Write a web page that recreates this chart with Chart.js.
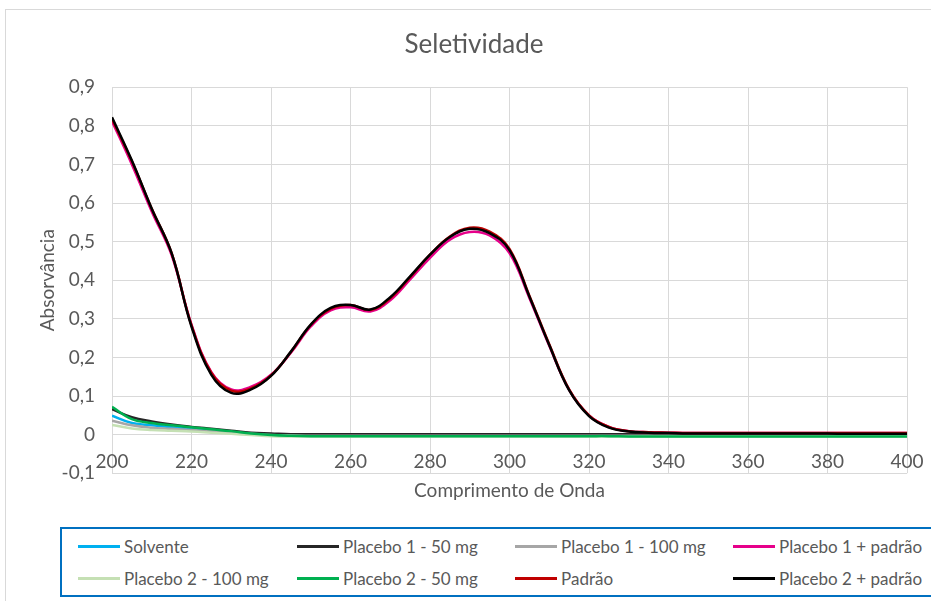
<!DOCTYPE html>
<html lang="pt">
<head>
<meta charset="utf-8">
<title>Seletividade</title>
<script src="https://cdn.jsdelivr.net/npm/chart.js@4.4.1/dist/chart.umd.min.js"></script>
<style>
  html, body { margin: 0; padding: 0; background: #fff; width: 931px; height: 601px; overflow: hidden; }
  #frame { position: absolute; left: 5px; top: 9px; width: 1000px; height: 700px; border: 1px solid #d9d9d9; }
  #chartBox { position: absolute; left: 0; top: 0; width: 948px; height: 520px; }
  #legend { position: absolute; left: 60px; top: 527px; width: 900px; height: 66px; border: 2px solid #0070c0; }
  .item { position: absolute; display: flex; align-items: center; height: 20px; font-family: Lato, "Open Sans", sans-serif; font-size: 17px; color: #595959; white-space: nowrap; }
  .swatch { width: 42px; height: 3px; margin-right: 4px; }
</style>
</head>
<body>
<div id="frame"></div>
<div id="chartBox"><canvas id="chart"></canvas></div>
<div id="legend"></div>

<script>
// Data (absorbance vs wavelength, nm)
const wavelengths = [200, 205, 210, 215, 220, 225, 230, 235, 240, 245, 250, 255, 260, 265, 270, 275, 280, 285, 290, 295, 300,
  305, 310, 315, 320, 325, 330, 335, 340, 345, 350, 355, 360, 365, 370, 375, 380, 385, 390, 395, 400];

const solvente = [0.049, 0.030, 0.024, 0.019, 0.015, 0.011, 0.007, 0.003, 0.000, -0.001, -0.002, -0.002, -0.002, -0.002, -0.002, -0.002, -0.002, -0.002, -0.002, -0.002, -0.002,
  -0.002, -0.002, -0.002, -0.002, -0.002, -0.002, -0.002, -0.002, -0.002, -0.002, -0.002, -0.002, -0.002, -0.002, -0.002, -0.002, -0.002, -0.002, -0.002, -0.002];
const placebo1_50 = [0.066, 0.045, 0.034, 0.026, 0.020, 0.015, 0.010, 0.005, 0.003, 0.001, 0.001, 0.001, 0.001, 0.001, 0.001, 0.001, 0.001, 0.001, 0.001, 0.001, 0.001,
  0.001, 0.001, 0.001, 0.001, 0.001, 0.001, 0.001, 0.001, 0.001, 0.001, 0.001, 0.001, 0.001, 0.001, 0.001, 0.001, 0.001, 0.001, 0.001, 0.001];
const placebo1_100 = [0.036, 0.024, 0.018, 0.015, 0.012, 0.009, 0.005, 0.002, -0.001, -0.002, -0.003, -0.003, -0.003, -0.003, -0.003, -0.003, -0.003, -0.003, -0.003, -0.003, -0.003,
  -0.003, -0.003, -0.003, -0.003, -0.003, -0.003, -0.003, -0.003, -0.003, -0.003, -0.003, -0.003, -0.003, -0.003, -0.003, -0.003, -0.003, -0.003, -0.003, -0.003];
const placebo1_padrao = [0.812, 0.700, 0.578, 0.465, 0.285, 0.162, 0.117, 0.124, 0.155, 0.212, 0.280, 0.322, 0.330, 0.319, 0.348, 0.402, 0.458, 0.505, 0.525, 0.516, 0.470,
  0.354, 0.230, 0.116, 0.050, 0.020, 0.009, 0.006, 0.005, 0.004, 0.004, 0.004, 0.004, 0.004, 0.004, 0.004, 0.004, 0.004, 0.004, 0.004, 0.004];
const placebo2_100 = [0.025, 0.016, 0.012, 0.010, 0.008, 0.005, 0.002, -0.001, -0.004, -0.005, -0.005, -0.005, -0.005, -0.005, -0.005, -0.005, -0.005, -0.005, -0.005, -0.005, -0.005,
  -0.005, -0.005, -0.005, -0.005, -0.005, -0.005, -0.005, -0.005, -0.005, -0.005, -0.005, -0.005, -0.005, -0.005, -0.005, -0.005, -0.005, -0.005, -0.005, -0.005];
const placebo2_50 = [0.072, 0.040, 0.030, 0.024, 0.019, 0.014, 0.009, 0.003, -0.001, -0.003, -0.004, -0.004, -0.004, -0.004, -0.004, -0.004, -0.004, -0.004, -0.004, -0.004, -0.004,
  -0.004, -0.004, -0.004, -0.004, -0.004, -0.005, -0.005, -0.005, -0.005, -0.005, -0.005, -0.005, -0.005, -0.005, -0.005, -0.005, -0.005, -0.005, -0.005, -0.005];
const padrao = [0.818, 0.708, 0.585, 0.470, 0.283, 0.160, 0.114, 0.120, 0.153, 0.214, 0.284, 0.326, 0.336, 0.323, 0.353, 0.408, 0.466, 0.513, 0.536, 0.526, 0.481,
  0.360, 0.234, 0.117, 0.050, 0.020, 0.009, 0.006, 0.005, 0.004, 0.004, 0.004, 0.004, 0.004, 0.004, 0.004, 0.004, 0.004, 0.004, 0.004, 0.004];
const placebo2_padrao = [0.822, 0.710, 0.585, 0.470, 0.280, 0.155, 0.108, 0.117, 0.152, 0.215, 0.285, 0.328, 0.336, 0.324, 0.356, 0.410, 0.466, 0.512, 0.533, 0.522, 0.478,
  0.358, 0.232, 0.115, 0.048, 0.018, 0.008, 0.005, 0.004, 0.003, 0.003, 0.003, 0.003, 0.003, 0.003, 0.003, 0.003, 0.002, 0.002, 0.002, 0.002];

const seriesNames = ["Solvente", "Placebo 1 - 50 mg", "Placebo 1 - 100 mg", "Placebo 1 + padrão",
  "Placebo 2 - 100 mg", "Placebo 2 - 50 mg", "Padrão", "Placebo 2 + padrão"];
const seriesValues = [solvente, placebo1_50, placebo1_100, placebo1_padrao, placebo2_100, placebo2_50, padrao, placebo2_padrao];
const seriesColors = ["#00b0f0", "#262626", "#a6a6a6", "#e6008a", "#c5e0b4", "#00b050", "#c00000", "#000000"];

const xTicks = [200, 220, 240, 260, 280, 300, 320, 340, 360, 380, 400];
const yTicks = [-0.1, 0, 0.1, 0.2, 0.3, 0.4, 0.5, 0.6, 0.7, 0.8, 0.9];

const FONT = "Lato, 'Open Sans', sans-serif";
const TEXT = "#595959";
const GRID = "#d9d9d9";

document.addEventListener("DOMContentLoaded", () => {
  initChart();
  buildLegend();
});

function formatY(v) {
  if (Math.abs(v) < 1e-9) return "0";
  return v.toFixed(1).replace(".", ",");
}

function initChart() {
  const ctx = document.getElementById("chart").getContext("2d");

  const datasets = seriesNames.map((name, i) => ({
    label: name,
    data: wavelengths.map((w, j) => ({ x: w, y: seriesValues[i][j] })),
    borderColor: seriesColors[i],
    backgroundColor: seriesColors[i],
    borderWidth: 2.5,
    pointRadius: 0,
    tension: 0.4,
    // Excel draws later series on top
    order: seriesNames.length - i,
  }));

  new Chart(ctx, {
    type: "line",
    data: { datasets },
    options: {
      responsive: true,
      maintainAspectRatio: false,
      animation: false,
      layout: { padding: { left: 0, right: 0, top: 0, bottom: 18 } },
      plugins: {
        legend: { display: false },
        tooltip: { enabled: false },
        title: {
          display: true,
          text: "Seletividade",
          color: TEXT,
          font: { family: FONT, size: 26, weight: "normal" },
          padding: { top: 29, bottom: 27 },
        },
      },
      scales: {
        x: {
          type: "linear",
          min: 200,
          max: 400,
          position: { y: 0 },
          afterBuildTicks: (s) => { s.ticks = xTicks.map((v) => ({ value: v })); },
          ticks: { color: TEXT, font: { family: FONT, size: 19 }, padding: 16, maxRotation: 0 },
          grid: { color: GRID, lineWidth: 1, drawTicks: false },
          border: { color: GRID },
        },
        xTitle: {
          type: "linear",
          axis: "x",
          min: 200,
          max: 400,
          position: "bottom",
          ticks: { display: false },
          grid: { display: false, drawTicks: false },
          border: { display: false },
          title: {
            display: true,
            text: "Comprimento de Onda",
            color: TEXT,
            font: { family: FONT, size: 19 },
            padding: { top: 6, bottom: 0 },
          },
        },
        y: {
          min: -0.1,
          max: 0.9,
          afterBuildTicks: (s) => { s.ticks = yTicks.map((v) => ({ value: v })); },
          afterFit: (s) => { s.width = 112; },
          ticks: { color: TEXT, font: { family: FONT, size: 19 }, padding: 17, callback: formatY },
          grid: { color: GRID, lineWidth: 1, drawTicks: false },
          border: { display: false },
          title: {
            display: true,
            text: "Absorvância",
            color: TEXT,
            font: { family: FONT, size: 19 },
            padding: { top: 36, bottom: 36 },
          },
        },
        // empty right axis only keeps the plot clear of the right edge
        yRight: {
          axis: "y",
          position: "right",
          min: -0.1,
          max: 0.9,
          afterFit: (s) => { s.width = 41; },
          ticks: { display: false },
          grid: { display: false, drawTicks: false },
          border: { display: false },
        },
      },
    },
  });
}

// Legend laid out in a 4-column grid like the original
function buildLegend() {
  const legend = document.getElementById("legend");
  const colX = [16, 235, 453, 671];
  const rowY = [7, 39];

  seriesNames.forEach((name, i) => {
    const item = document.createElement("div");
    item.className = "item";
    item.style.left = colX[i % 4] + "px";
    item.style.top = rowY[Math.floor(i / 4)] + "px";

    const swatch = document.createElement("span");
    swatch.className = "swatch";
    swatch.style.background = seriesColors[i];

    const text = document.createElement("span");
    text.textContent = name;

    item.appendChild(swatch);
    item.appendChild(text);
    legend.appendChild(item);
  });
}
</script>
</body>
</html>
